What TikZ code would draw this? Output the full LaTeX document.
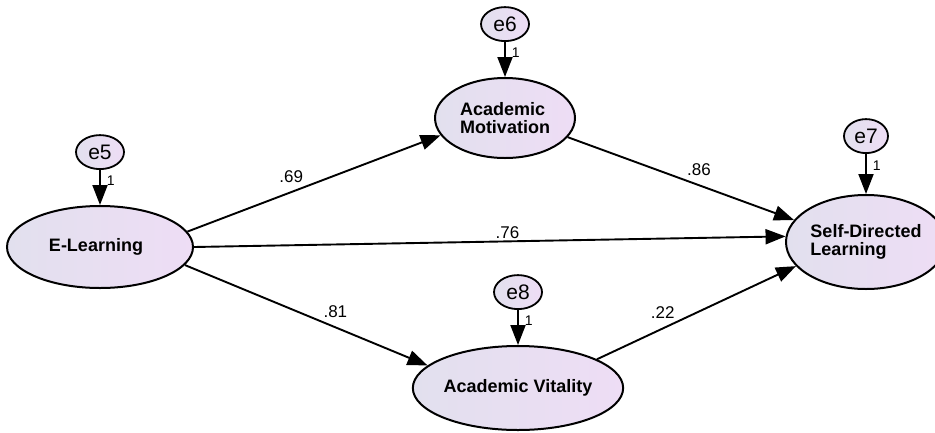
\documentclass[tikz,border=0pt]{standalone}
\usepackage{fontspec}
\setmainfont{Liberation Sans}
\usepackage{tikz}
\usetikzlibrary{arrows.meta,positioning,shapes.geometric}
\definecolor{lavleft}{RGB}{226,224,238}
\definecolor{lavright}{RGB}{238,221,245}

\begin{document}
\begin{tikzpicture}[
      x=1pt, y=1pt,
      node distance=35pt,
      latent/.style={ellipse, draw, line width=2pt, left color=lavleft, right color=lavright,
        inner sep=0pt, align=left, font=\fontsize{18}{18}\selectfont\bfseries},
      err/.style={ellipse, draw, line width=1.8pt, left color=lavleft, right color=lavright,
        inner sep=0pt, minimum width=48pt, minimum height=34pt, font=\fontsize{21}{24}\selectfont},
      arr/.style={-{Triangle[length=20pt,width=15pt]}, line width=1.9pt},
      coef/.style={font=\fontsize{17}{18}\selectfont, inner sep=1pt},
      one/.style={font=\fontsize{14}{14}\selectfont, inner sep=1pt}
    ]
    \clip (0,0) rectangle (935,-432);
    \node[latent, minimum width=186pt, minimum height=82pt] (el) at (100,-247) {E-Learning\hspace{8pt}};
    \node[latent, minimum width=140pt, minimum height=80pt] (am) at (505,-118) {Academic\\Motivation};
    \node[latent, minimum width=160pt, minimum height=94pt] (sdl) at (866,-242) {Self-Directed\\Learning};
    \node[latent, minimum width=160pt, minimum height=84pt] (av) at (518,-388) {Academic Vitality};
    \node[err, above=of el] (e5) {e5};
    \node[err, above=of am] (e6) {e6};
    \node[err, above=40pt of sdl, minimum width=44pt] (e7) {e7};
    \node[err, above=of av] (e8) {e8};
    % error terms
    \draw[arr] (e5) -- node[one, pos=0.3, right=5pt] {1} (el);
    \draw[arr] (e6) -- node[one, pos=0.3, right=5pt] {1} (am);
    \draw[arr] (e7) -- node[one, pos=0.3, right=5pt] {1} (sdl);
    \draw[arr] (e8) -- node[one, pos=0.3, right=5pt] {1} (av);
    % paths
    \draw[arr] (el.10) -- node[coef, pos=0.41, above=7pt] {.69} (am.195);
    \draw[arr] (el.east) -- node[coef, pos=0.53, above=1pt] {.76} (sdl.176);
    \draw[arr] (el.-12) -- node[coef, pos=0.62, above=8pt] {.81} (av.166);
    \draw[arr] (am.-17) -- node[coef, pos=0.58, above=8pt] {.86} (sdl.163);
    \draw[arr] (av.20) -- node[coef, pos=0.33, above=8pt] {.22} (sdl.199);
  \end{tikzpicture}
\end{document}
